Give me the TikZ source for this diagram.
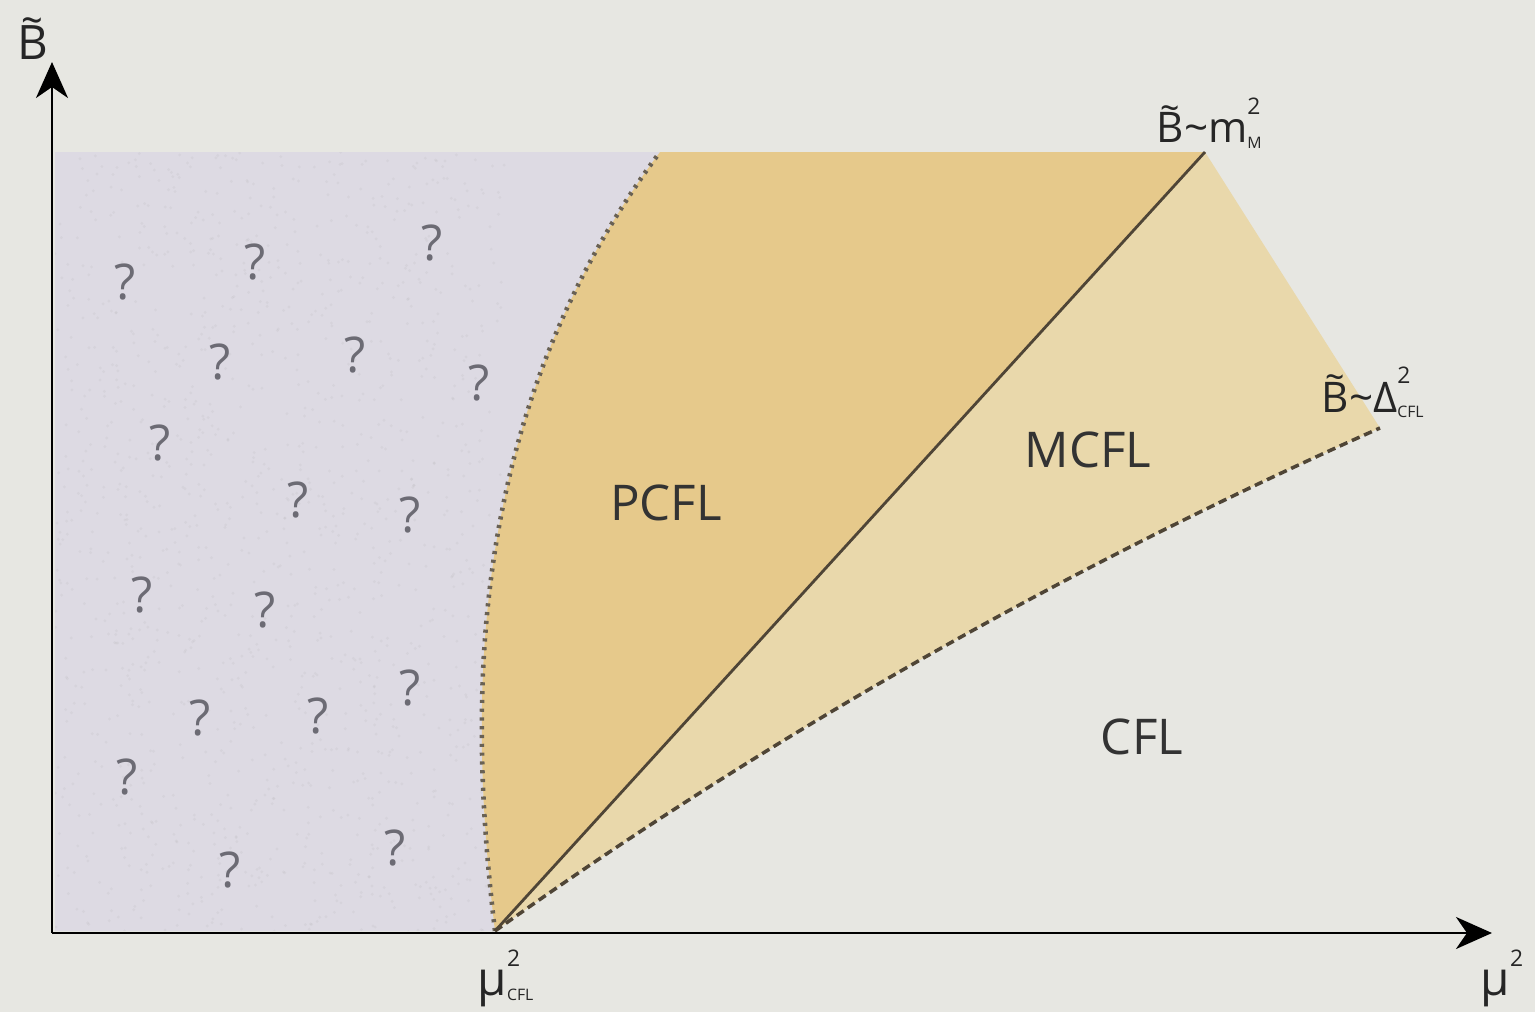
\documentclass[tikz,border=0pt]{standalone}
\usepackage{fontspec}
\setmainfont{Open Sans}
\usetikzlibrary{arrows.meta}

\definecolor{paper}{HTML}{E7E7E2}
\definecolor{unknown}{HTML}{DDDAE3}
\definecolor{pcfl}{HTML}{E6C98B}
\definecolor{mcfl}{HTML}{E9D8AB}
\definecolor{edge}{HTML}{4F4536}
\definecolor{qmark}{HTML}{6C6B74}

% stacked superscript / subscript as in the slide
\newcommand{\supsub}[2]{\rlap{\raisebox{8pt}{\fontsize{6.5}{7}\selectfont #1}}\raisebox{-1.5pt}{\fontsize{4.5}{5}\selectfont #2}}
% B with a tilde on top
\newcommand{\tB}{\leavevmode\rlap{\hbox to 0.62em{\hss\raisebox{0.52em}{\scalebox{0.8}[0.9]{\textasciitilde}}\hss}}B}

\begin{document}
\begin{tikzpicture}[
	x=0.01cm, y=-0.01cm,
	axis/.style={line width=0.7pt, -{Stealth[length=3.6mm, width=3.2mm, inset=1.1mm]}},
	border/.style={line width=1.3pt, edge!85, dash pattern=on 0.9pt off 1.6pt},
	crossover/.style={line width=1pt, edge, dash pattern=on 2.4pt off 1.4pt},
	phase/.style={font=\fontsize{14}{17}\selectfont, text=black!80},
	axlabel/.style={font=\fontsize{13.5}{16}\selectfont, text=black!85, inner sep=0pt},
	curvelabel/.style={font=\fontsize{12}{14}\selectfont, text=black!85, inner sep=0pt},
	unk/.style={font=\fontsize{14}{16}\selectfont, text=qmark},
]

% --- Hintergrund ---
\fill[paper] (0,0) rectangle (1535,1012);

% --- Eckpunkte ---
\coordinate (O) at (52,933);
\coordinate (muc) at (495,931);
\coordinate (top) at (660,152);
\coordinate (mM) at (1205,152);
\coordinate (dC) at (1380,428);

% --- unbekannter Bereich ---
\fill[unknown] (55,152) -- (top) .. controls (460,420) and (470,720) .. (muc) -- (55,931) -- cycle;
\begin{scope}
	\clip (55,152) -- (top) .. controls (460,420) and (470,720) .. (muc) -- (55,931) -- cycle;
	\pgfmathsetseed{7}
	\foreach \k in {1,...,1400}
		\fill[black!35, opacity=0.12] (55+rnd*450,152+rnd*780) circle (1.6);
\end{scope}

% --- PCFL ---
\fill[pcfl] (top) -- (mM) -- (muc) .. controls (470,720) and (460,420) .. (top) -- cycle;

% --- MCFL ---
\fill[mcfl] (muc) -- (mM) -- (dC) .. controls (1067,567) and (772,734) .. (muc) -- cycle;

% --- Grenzlinien ---
\draw[border] (muc) .. controls (470,720) and (460,420) .. (top);
\draw[line width=0.8pt, edge] (muc) -- (mM);
\draw[crossover] (muc) .. controls (772,734) and (1067,567) .. (dC);

% --- Achsen ---
\draw[axis] (O) -- (52,62);
\draw[axis] (O) -- (1492,933);

% --- Beschriftungen ---
\node[axlabel, anchor=base west] (ylab) at (17,60) {\tB};
\node[axlabel, anchor=base west] (xlab) at (1480,995) {μ\supsub{2}{}};
\node[axlabel, anchor=base west] (mulab) at (477,995) {μ\supsub{2}{CFL}};
\node[curvelabel, anchor=base west] (mMlab) at (1156,143) {\tB\textasciitilde m\supsub{2}{M}};
\node[curvelabel, anchor=base west] (dClab) at (1321,412) {\tB\textasciitilde Δ\supsub{2}{CFL}};

\node[phase] (pcflname) at (666,503) {PCFL};
\node[phase] (mcflname) at (1088,450) {MCFL};
\node[phase] (cflname) at (1142,737) {CFL};

% --- Fragezeichen ---
\foreach \qx/\qy [count=\i] in {125/282, 255/262, 432/243, 220/362, 355/355, 479/383,
	160/443, 298/500, 410/515, 142/595, 265/610, 410/688, 200/718, 318/716,
	127/777, 395/848, 230/870}
	\node[unk] (q\i) at (\qx,\qy) {?};

\end{tikzpicture}
\end{document}
